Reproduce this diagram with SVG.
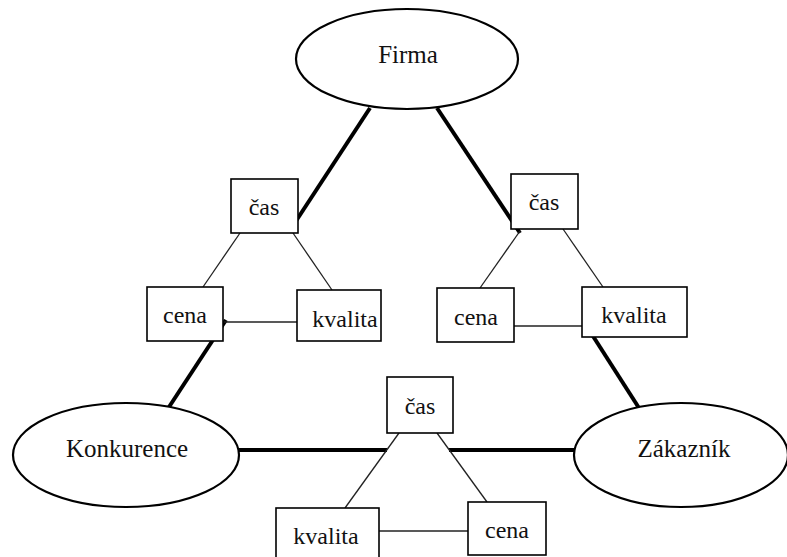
<svg xmlns="http://www.w3.org/2000/svg" width="787" height="557" viewBox="0 0 787 557">
  <style>
    .bg { fill: #ffffff; }
    .thick { stroke: #000; stroke-width: 4; fill: none; stroke-linecap: butt; }
    .thin { stroke: #222; stroke-width: 1.3; fill: none; }
    .ell { fill: #fff; stroke: #000; stroke-width: 2.2; }
    .box { fill: #fff; stroke: #000; stroke-width: 1.6; }
    .lbl { fill: #111; text-anchor: middle; }
    .big { font-size: 25px; }
    .small { font-size: 24px; }
  </style>
  <rect class="bg" x="0" y="0" width="787" height="557"/>

  <!-- connectors -->
  <g id="connectors">
    <!-- main triangle edges (thick) -->
    <line class="thick" x1="370" y1="108" x2="296" y2="221"/>
    <line class="thick" x1="437" y1="108" x2="520" y2="233"/>
    <line class="thick" x1="169" y1="407" x2="226" y2="320"/>
    <line class="thick" x1="591" y1="333" x2="639" y2="408"/>
    <line class="thick" x1="237" y1="450" x2="387" y2="450"/>
    <line class="thick" x1="449" y1="450" x2="575" y2="450"/>

    <!-- left sub-triangle -->
    <line class="thin" x1="240" y1="233" x2="203" y2="287"/>
    <line class="thin" x1="293" y1="233" x2="332" y2="290"/>
    <line class="thin" x1="223" y1="322" x2="297" y2="322"/>

    <!-- right sub-triangle -->
    <line class="thin" x1="520" y1="231" x2="480" y2="288"/>
    <line class="thin" x1="563" y1="229" x2="603" y2="287"/>
    <line class="thin" x1="514" y1="326" x2="582" y2="326"/>

    <!-- bottom sub-triangle -->
    <line class="thin" x1="399" y1="433" x2="345" y2="508"/>
    <line class="thin" x1="437" y1="433" x2="487" y2="502"/>
    <line class="thin" x1="379" y1="531" x2="468" y2="531"/>
  </g>

  <g font-family="'Liberation Serif', 'DejaVu Serif', 'Times New Roman', serif">
    <!-- main nodes -->
    <g id="firma">
      <ellipse class="ell" cx="407" cy="59" rx="111" ry="50"/>
      <text class="lbl big" x="408" y="63">Firma</text>
    </g>
    <g id="konkurence">
      <ellipse class="ell" cx="126" cy="455" rx="113" ry="52"/>
      <text class="lbl big" x="127" y="457">Konkurence</text>
    </g>
    <g id="zakaznik">
      <ellipse class="ell" cx="681" cy="455" rx="107" ry="52"/>
      <text class="lbl big" x="684" y="457">Zákazník</text>
    </g>

    <!-- left group: Firma / Konkurence -->
    <g id="cas-left">
      <rect class="box" x="231" y="179" width="67" height="54"/>
      <text class="lbl small" x="264" y="215">čas</text>
    </g>
    <g id="cena-left">
      <rect class="box" x="147" y="287" width="76" height="54"/>
      <text class="lbl small" x="185" y="323">cena</text>
    </g>
    <g id="kvalita-left">
      <rect class="box" x="297" y="290" width="84" height="51"/>
      <text class="lbl small" x="345" y="327">kvalita</text>
    </g>

    <!-- right group: Firma / Zákazník -->
    <g id="cas-right">
      <rect class="box" x="511" y="174" width="67" height="55"/>
      <text class="lbl small" x="544" y="210">čas</text>
    </g>
    <g id="cena-right">
      <rect class="box" x="437" y="288" width="77" height="54"/>
      <text class="lbl small" x="476" y="325">cena</text>
    </g>
    <g id="kvalita-right">
      <rect class="box" x="582" y="287" width="105" height="50"/>
      <text class="lbl small" x="634" y="323">kvalita</text>
    </g>

    <!-- bottom group: Konkurence / Zákazník -->
    <g id="cas-bottom">
      <rect class="box" x="387" y="377" width="66" height="56"/>
      <text class="lbl small" x="420" y="414">čas</text>
    </g>
    <g id="kvalita-bottom">
      <rect class="box" x="276" y="508" width="103" height="52"/>
      <text class="lbl small" x="326" y="544">kvalita</text>
    </g>
    <g id="cena-bottom">
      <rect class="box" x="468" y="502" width="78" height="53"/>
      <text class="lbl small" x="507" y="538">cena</text>
    </g>
  </g>
</svg>
